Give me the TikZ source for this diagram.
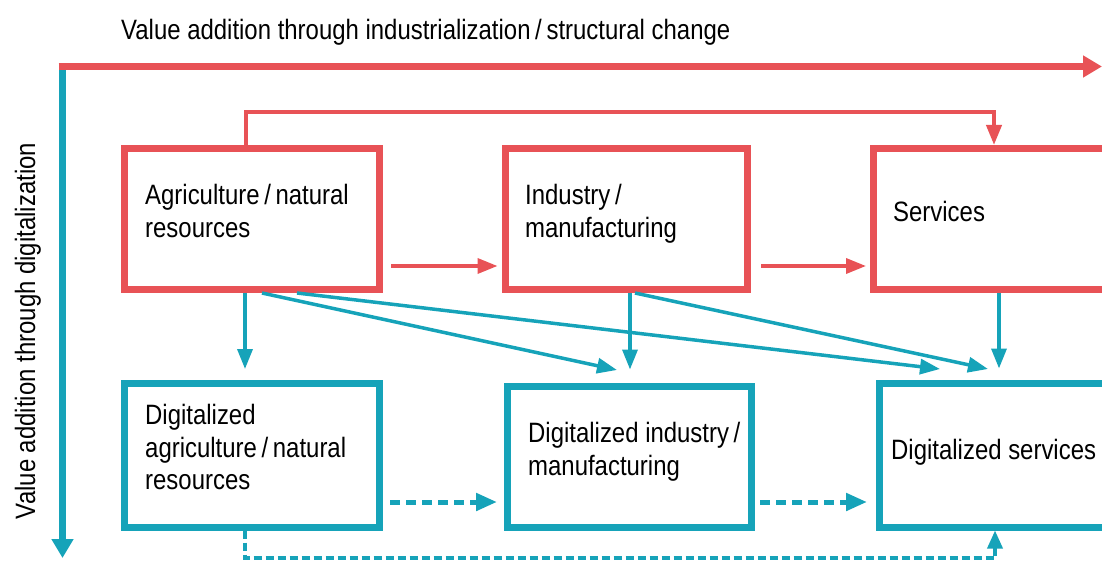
\documentclass[tikz,border=0pt]{standalone}
\usepackage{fontspec}
\setmainfont{Liberation Sans}[FakeStretch=0.855]
\usepackage{tikz}
\usetikzlibrary{arrows.meta}

\definecolor{ured}{RGB}{232,82,86}
\definecolor{ublue}{RGB}{22,163,185}

\tikzset{
  redbox/.style={draw=ured, line width=7pt, inner sep=0pt},
  bluebox/.style={draw=ublue, line width=7pt, inner sep=0pt},
  axisred/.style={draw=ured, line width=7pt, -{Triangle[length=19pt,width=21pt]}},
  axisblue/.style={draw=ublue, line width=7pt, -{Triangle[length=19pt,width=21pt]}},
  thinred/.style={draw=ured, line width=3.5pt, -{Triangle[length=20pt,width=15pt]}},
  thinblue/.style={draw=ublue, line width=3.5pt, -{Triangle[length=20pt,width=15pt]}},
  dashblue/.style={draw=ublue, line width=5pt, dash pattern=on 10pt off 6pt, -{Triangle[length=21pt,width=17pt]}},
  thindash/.style={draw=ublue, line width=3.5pt, dash pattern=on 8pt off 4pt, -{Triangle[length=18pt,width=15pt]}},
  txt/.style={inner sep=0pt, align=left, font=\fontsize{28}{32.5}\selectfont},
}

\begin{document}
\begin{tikzpicture}[x=1pt,y=1pt,yscale=-1,xscale=1]
\useasboundingbox (0,0) rectangle (1102,561);

%Axes
\coordinate (origin) at (58.5,66.5);
\coordinate (xend) at (1102,66.5);
\coordinate (ystart) at (62.5,66.5);
\coordinate (yend) at (62.5,558);
\draw[axisblue] (ystart) -- (yend);
\draw[axisred] (origin) -- (xend);

%Shape: Rect, sector boxes
\node[redbox, minimum width=255pt, minimum height=141pt] (agri) at (252,219) {};
\node[redbox, minimum width=242.5pt, minimum height=141pt] (ind) at (626.25,219) {};
\node[redbox, minimum width=252pt, minimum height=141pt] (serv) at (999,219) {};
%Shape: Rect, digitalized boxes
\node[bluebox, minimum width=255pt, minimum height=143.5pt] (diga) at (252,455.25) {};
\node[bluebox, minimum width=244pt, minimum height=141pt] (digi) at (629,456.5) {};
\node[bluebox, minimum width=246pt, minimum height=144pt] (digs) at (1002,455) {};

%Red arrows
\draw[thinred, shorten <=8pt, shorten >=4pt] (agri.east |- 0,266) -- (ind.west |- 0,266);
\draw[thinred, shorten <=10pt, shorten >=3.5pt] (ind.east |- 0,266) -- (serv.west |- 0,266);
\draw[thinred, line width=4pt] (agri.north -| 245.5,0) -- ++(0,-32.5) -| (serv.north -| 994,0);

%Blue arrows
\coordinate (tipi) at (617,370);
\coordinate (tipsa) at (940,369);
\coordinate (tipsi) at (988,369);
\draw[thinblue, shorten >=11pt] (agri.south -| 245,0) -- (diga.north -| 245,0);
\draw[thinblue, shorten >=13pt] (ind.south -| 630,0) -- (digi.north -| 630,0);
\draw[thinblue, shorten >=11pt] (serv.south -| 999,0) -- (digs.north -| 999,0);
\draw[thinblue] (agri.south -| 262,0) -- (tipi);
\draw[thinblue] (agri.south -| 297,0) -- (tipsa);
\draw[thinblue] (ind.south -| 635,0) -- (tipsi);

%Dashed arrows
\draw[dashblue, shorten <=7pt, shorten >=6.5pt] (diga.east |- 0,502) -- (digi.west |- 0,502);
\draw[dashblue, shorten <=5.5pt, shorten >=8.5pt] (digi.east |- 0,502) -- (digs.west |- 0,502);
\draw[thindash] (diga.south -| 245,0) -- ++(0,27.5) -| (digs.south -| 995,0);

% Text Node
\node[txt, anchor=base west] (xlabel) at (121,39.5) {Value addition through industrialization\,/\,structural change};
% Text Node
\node[txt, rotate=90, anchor=base] (ylabel) at (35,331) {Value addition through digitalization};
% Text Node
\node[txt, anchor=north west] (agritext) at (145,184.5) {Agriculture\,/\,natural\\resources};
% Text Node
\node[txt, anchor=north west] (indtext) at (525,184.5) {Industry\,/\\manufacturing};
% Text Node
\node[txt, anchor=base west] (servtext) at (893,222) {Services};
% Text Node
\node[txt, anchor=north west] (digatext) at (145,404.5) {Digitalized\\agriculture\,/\,natural\\resources};
% Text Node
\node[txt, anchor=north west] (digitext) at (528,422.5) {Digitalized industry\,/\\manufacturing};
% Text Node
\node[txt, anchor=base west] (digstext) at (891,459.5) {Digitalized services};

\end{tikzpicture}
\end{document}
